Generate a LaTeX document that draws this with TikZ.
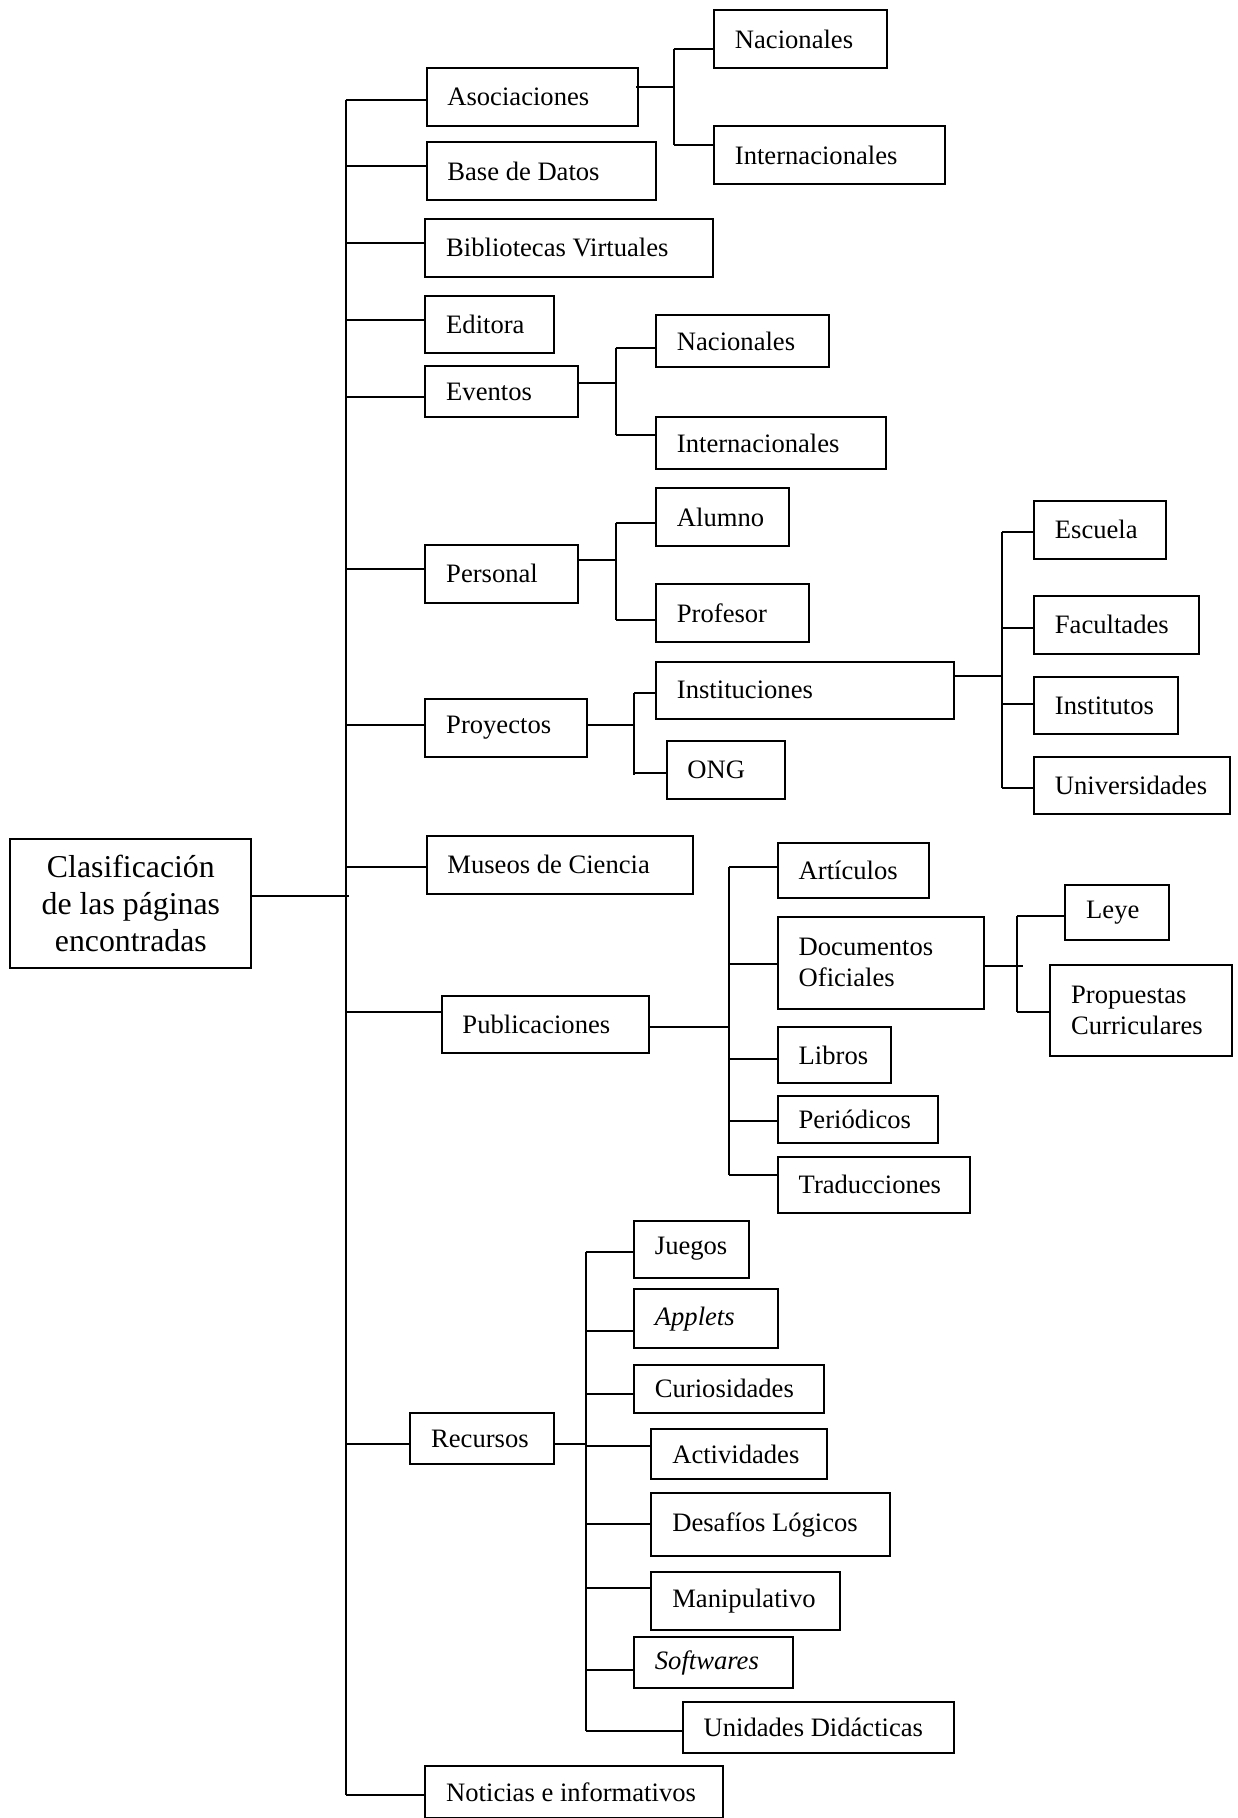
\documentclass[tikz,border=0pt]{standalone}
\usepackage{fontspec}
\setmainfont{Liberation Serif}
\newlength\uu
\setlength\uu{0.57965pt}
\tikzset{
  bx/.code 2 args={\pgfmathsetlengthmacro\bxtw{(#1)*\uu-36*\uu}%
    \tikzset{draw, line width=1pt, anchor=north west, inner xsep=18*\uu, inner ysep=0pt,
      minimum width=(#1)*\uu, minimum height=(#2)*\uu, text width=\bxtw, align=flush left,
      font=\fontsize{13.3}{15.5}\selectfont}},
  ln/.style={line width=1pt}
}
\begin{document}
\begin{tikzpicture}[x=\uu,y=-\uu]
\useasboundingbox (0,0) rectangle (1067,1568);
% root
\node[bx={208}{111}, align=flush center, font=\fontsize{15.9}{18.5}\selectfont] (root) at (8,723) {Clasificación\\de las páginas\\encontradas};
% level 1
\node[bx={182}{50}] (asoc) at (367,58) {Asociaciones};
\node[bx={198}{50}] (bdd) at (367,122) {Base de Datos};
\node[bx={248}{50}] (bib) at (366,188) {Bibliotecas Virtuales};
\node[bx={111}{50}] (edit) at (366,254) {Editora};
\node[bx={132}{44}] (even) at (366,315) {Eventos};
\node[bx={132}{50}] (pers) at (366,469) {Personal};
\node[bx={139}{50}] (proy) at (366,602) {Proyectos};
\node[bx={230}{50}] (mus) at (367,720) {Museos de Ciencia};
\node[bx={179}{49}] (pub) at (380,858) {Publicaciones};
\node[bx={124}{44}] (rec) at (353,1218) {Recursos};
\node[bx={257}{45}] (noti) at (366,1522) {Noticias e informativos};
% level 2
\node[bx={149}{50}] (nac1) at (615,8) {Nacionales};
\node[bx={199}{50}] (int1) at (615,108) {Internacionales};
\node[bx={149}{45}] (nac2) at (565,271) {Nacionales};
\node[bx={198}{45}] (int2) at (565,359) {Internacionales};
\node[bx={115}{50}] (alu) at (565,420) {Alumno};
\node[bx={132}{50}] (prof) at (565,503) {Profesor};
\node[bx={257}{49}] (inst) at (565,570) {Instituciones};
\node[bx={102}{50}] (ong) at (574,638) {ONG};
\node[bx={130}{48}] (art) at (670,726) {Artículos};
\node[bx={178}{79}] (doc) at (670,790) {Documentos\\Oficiales};
\node[bx={98}{48}] (lib) at (670,885) {Libros};
\node[bx={138}{41}] (per) at (670,944) {Periódicos};
\node[bx={166}{48}] (tra) at (670,997) {Traducciones};
\node[bx={99}{49}] (jue) at (546,1052) {Juegos};
\node[bx={124}{51}] (app) at (546,1111) {\textit{Applets}};
\node[bx={164}{42}] (cur) at (546,1176) {Curiosidades};
\node[bx={151}{43}] (act) at (561,1232) {Actividades};
\node[bx={206}{54}] (des) at (561,1287) {Desafíos Lógicos};
\node[bx={163}{50}] (man) at (561,1355) {Manipulativo};
\node[bx={137}{44}] (sof) at (546,1411) {\textit{Softwares}};
\node[bx={234}{44}] (uni) at (588,1467) {Unidades Didácticas};
% level 3
\node[bx={114}{50}] (esc) at (891,431) {Escuela};
\node[bx={142}{50}] (fac) at (891,513) {Facultades};
\node[bx={124}{49}] (ito) at (891,583) {Institutos};
\node[bx={169}{49}] (univ) at (891,652) {Universidades};
\node[bx={89}{48}] (ley) at (918,762) {Leye};
\node[bx={157}{79}] (pro) at (905,831) {Propuestas\\Curriculares};
% junction columns
\coordinate (j0) at (298,0);
\coordinate (j1) at (581,0);
\coordinate (j2) at (531,0);
\coordinate (j3) at (547,0);
\coordinate (j4) at (864,0);
\coordinate (j5) at (629,0);
\coordinate (j6) at (877,0);
\coordinate (j7) at (505,0);
% main spine
\draw[ln] (j0 |- 0,86) -- (j0 |- 0,1548);
\draw[ln] (root.east |- 0,773) -- ([xshift=3*\uu]j0 |- 0,773);
\foreach \n/\y in {asoc/86,bdd/143,bib/210,edit/276,even/342,pers/491,proy/625,mus/748,pub/873,rec/1245,noti/1548}
  \draw[ln] (j0 |- 0,\y) -- (\n.west |- 0,\y);
% Asociaciones
\draw[ln] ([xshift=-2*\uu]asoc.east |- 0,75) -- (j1 |- 0,75);
\draw[ln] (j1 |- 0,42) -- (j1 |- 0,125);
\draw[ln] (j1 |- 0,42) -- (nac1.west |- 0,42);
\draw[ln] (j1 |- 0,125) -- (int1.west |- 0,125);
% Eventos
\draw[ln] (even.east |- 0,330) -- (j2 |- 0,330);
\draw[ln] (j2 |- 0,300) -- (j2 |- 0,375);
\draw[ln] (j2 |- 0,300) -- (nac2.west |- 0,300);
\draw[ln] (j2 |- 0,375) -- (int2.west |- 0,375);
% Personal
\draw[ln] (pers.east |- 0,483) -- (j2 |- 0,483);
\draw[ln] (j2 |- 0,451) -- (j2 |- 0,535);
\draw[ln] (j2 |- 0,451) -- (alu.west |- 0,451);
\draw[ln] (j2 |- 0,535) -- (prof.west |- 0,535);
% Proyectos
\draw[ln] (proy.east |- 0,625) -- (j3 |- 0,625);
\draw[ln] (j3 |- 0,598) -- (j3 |- 0,668);
\draw[ln] (j3 |- 0,598) -- (inst.west |- 0,598);
\draw[ln] (j3 |- 0,667) -- (ong.west |- 0,667);
% Instituciones
\draw[ln] (inst.east |- 0,583) -- (j4 |- 0,583);
\draw[ln] (j4 |- 0,459) -- (j4 |- 0,680);
\foreach \n/\y in {esc/459,fac/542,ito/607,univ/680}
  \draw[ln] (j4 |- 0,\y) -- (\n.west |- 0,\y);
% Publicaciones
\draw[ln] (pub.east |- 0,886) -- (j5 |- 0,886);
\draw[ln] (j5 |- 0,748) -- (j5 |- 0,1013);
\foreach \n/\y in {art/748,doc/831,lib/913,per/967,tra/1013}
  \draw[ln] (j5 |- 0,\y) -- (\n.west |- 0,\y);
% Documentos Oficiales
\draw[ln] (doc.east |- 0,833) -- ([xshift=5*\uu]j6 |- 0,833);
\draw[ln] (j6 |- 0,790) -- (j6 |- 0,873);
\draw[ln] (j6 |- 0,790) -- (ley.west |- 0,790);
\draw[ln] (j6 |- 0,873) -- (pro.west |- 0,873);
% Recursos
\draw[ln] (rec.east |- 0,1245) -- (j7 |- 0,1245);
\draw[ln] (j7 |- 0,1080) -- (j7 |- 0,1493);
\foreach \n/\y in {jue/1080,app/1148,cur/1202,act/1247,des/1314,man/1370,sof/1440,uni/1493}
  \draw[ln] (j7 |- 0,\y) -- (\n.west |- 0,\y);
\end{tikzpicture}
\end{document}
